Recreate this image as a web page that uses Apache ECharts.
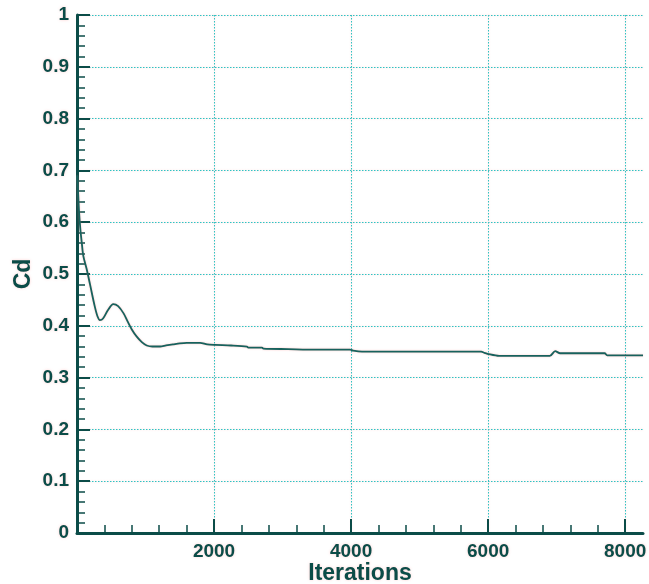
<!DOCTYPE html>
<html>
<head>
<meta charset="utf-8">
<script src="https://cdn.jsdelivr.net/npm/echarts@6/dist/echarts.min.js"></script>
<style>html,body{margin:0;padding:0;background:#fff;}#c{width:649px;height:584px;}</style>
</head>
<body>
<div id="c"></div>
<script>
// Data
var iterations = [0, 15, 30, 50, 70, 92, 140, 190, 260, 300, 335, 380, 450, 530, 600, 680, 740, 800, 872, 950, 1018, 1100, 1212, 1300, 1400, 1500, 1601, 1796, 1900, 2015, 2250, 2480, 2500, 2700, 2720, 3080, 3500, 3985, 4030, 4160, 5900, 5940, 5990, 6160, 6900, 6978, 7051, 7700, 7737, 8260];
var cdValues   = [0.69, 0.66, 0.62, 0.585, 0.56, 0.535, 0.51, 0.48, 0.437, 0.418, 0.411, 0.414, 0.43, 0.442, 0.438, 0.424, 0.408, 0.393, 0.379, 0.368, 0.362, 0.360, 0.360, 0.362, 0.364, 0.366, 0.367, 0.367, 0.364, 0.363, 0.362, 0.360, 0.358, 0.358, 0.356, 0.355, 0.354, 0.354, 0.352, 0.350, 0.350, 0.348, 0.346, 0.342, 0.342, 0.351, 0.347, 0.347, 0.343, 0.343];
var xMajorTicks = [2000, 4000, 6000, 8000];
var xMinorTicks = [400, 800, 1200, 1600, 2400, 2800, 3200, 3600, 4400, 4800, 5200, 5600, 6400, 6800, 7200, 7600];
var xMin = 0, xMax = 8260;
var yMin = 0, yMax = 1, yStep = 0.1;
var xTitle = 'Iterations', yTitle = 'Cd';

var axisColor = '#0b4c48';
var gridColor = '#2ec4c4';
var labelFont = {color: axisColor, fontWeight: 'bold', fontSize: 19, fontFamily: 'Liberation Sans, Arial, sans-serif', textShadowColor: 'rgba(255,120,120,0.35)', textShadowBlur: 3};
var nameFont = {color: axisColor, fontWeight: 'bold', fontSize: 23, fontFamily: 'Liberation Sans, Arial, sans-serif', textShadowColor: 'rgba(255,120,120,0.35)', textShadowBlur: 3};
var gridLine = {type: [1.5, 1.5], color: gridColor, width: 1, shadowColor: 'rgba(255,110,110,0.35)', shadowBlur: 2};

var pts = iterations.map(function (x, i) { return [x, cdValues[i]]; });

var chart = echarts.init(document.getElementById('c'));
chart.setOption({
  animation: false,
  backgroundColor: '#fff',
  grid: {left: 77, right: 6, top: 15, bottom: 51, containLabel: false, outerBoundsMode: 'none'},
  xAxis: [{
    type: 'value', min: xMin, max: xMax, position: 'bottom',
    name: xTitle, nameLocation: 'middle', nameGap: 29, nameMoveOverlap: false, nameTextStyle: nameFont,
    axisLine: {show: true, onZero: false, lineStyle: {color: axisColor, width: 3}},
    axisTick: {show: true, inside: true, length: 14, customValues: xMajorTicks, lineStyle: {color: axisColor, width: 2}},
    axisLabel: {show: true, customValues: xMajorTicks, margin: 9, formatter: function (v) { return String(v); }, ...labelFont},
    splitLine: {show: true, customValues: xMajorTicks, lineStyle: gridLine},
    minorTick: {show: false}
  }, {
    type: 'value', min: xMin, max: xMax, position: 'bottom',
    axisLine: {show: false},
    axisTick: {show: true, inside: true, length: 8, customValues: xMinorTicks, lineStyle: {color: axisColor, width: 1.5}},
    axisLabel: {show: false},
    splitLine: {show: false}
  }],
  yAxis: {
    type: 'value', min: yMin, max: yMax, interval: yStep,
    name: yTitle, nameLocation: 'middle', nameGap: 42, nameMoveOverlap: false, nameTextStyle: nameFont,
    axisLine: {show: true, onZero: false, lineStyle: {color: axisColor, width: 3}},
    axisTick: {show: true, inside: true, length: 13, lineStyle: {color: axisColor, width: 2}},
    minorTick: {show: true, splitNumber: 5, length: 8, lineStyle: {color: axisColor, width: 1.5}},
    axisLabel: {margin: 8, formatter: function (v) { return String(+v.toFixed(1)); }, ...labelFont},
    splitLine: {show: true, lineStyle: gridLine}
  },
  series: [{
    type: 'line', xAxisIndex: 0, data: pts, showSymbol: false, smooth: 0.3,
    lineStyle: {color: '#17625d', width: 1.8, shadowColor: 'rgba(255,110,110,0.4)', shadowBlur: 2}
  }]
});
</script>
</body>
</html>
